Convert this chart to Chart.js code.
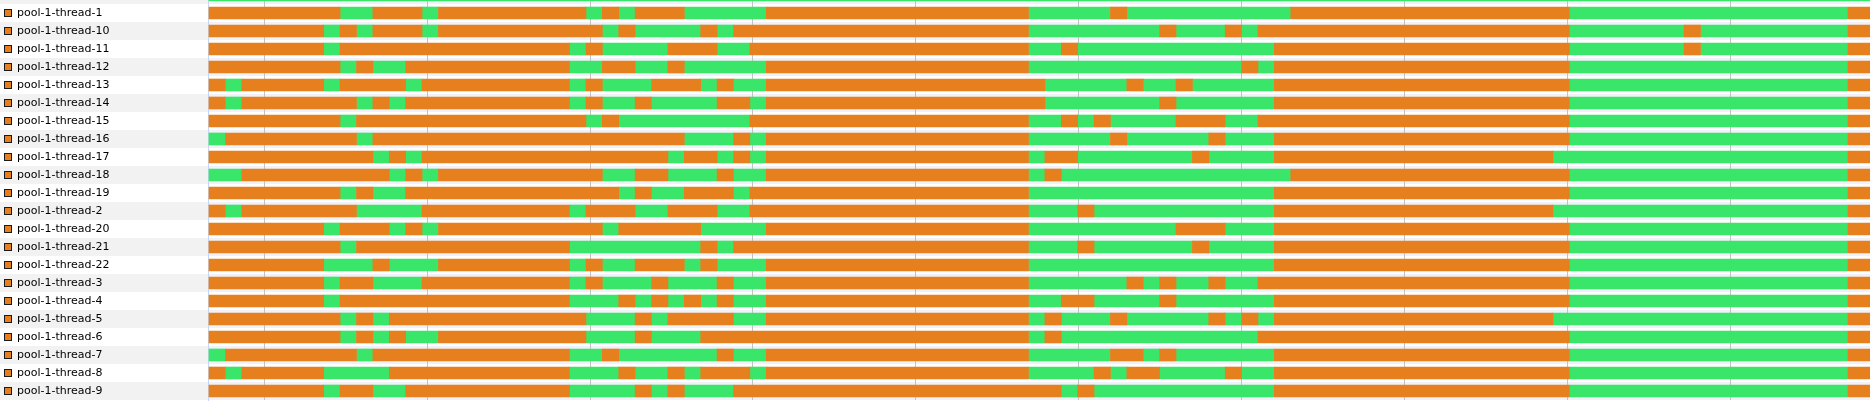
<!DOCTYPE html>
<html>
<head>
<meta charset="utf-8">
<script src="https://cdn.jsdelivr.net/npm/chart.js@4.4.1/dist/chart.umd.min.js"></script>
<style>
  html, body { margin: 0; padding: 0; background: #fff; overflow: hidden; }
  #wrap { position: relative; width: 1870px; height: 402px; overflow: hidden; }
  #timeline { position: absolute; left: 0; top: -18px; }
</style>
</head>
<body>
<div id="wrap"><canvas id="timeline" width="1870" height="422"></canvas></div>
<script>
// thread state timeline, one sample every ~100 ms

const SAMPLE_MS = 100.6;
const lastSample = 102;

// first row is only the bottom edge of a thread that is cut off above
const threadNames = [' ',
  'pool-1-thread-1', 'pool-1-thread-10', 'pool-1-thread-11', 'pool-1-thread-12',
  'pool-1-thread-13', 'pool-1-thread-14', 'pool-1-thread-15', 'pool-1-thread-16',
  'pool-1-thread-17', 'pool-1-thread-18', 'pool-1-thread-19', 'pool-1-thread-2',
  'pool-1-thread-20', 'pool-1-thread-21', 'pool-1-thread-22', 'pool-1-thread-3',
  'pool-1-thread-4', 'pool-1-thread-5', 'pool-1-thread-6', 'pool-1-thread-7',
  'pool-1-thread-8', 'pool-1-thread-9'];

const firstState = ['RUNNABLE',
  'WAITING', 'WAITING', 'WAITING', 'WAITING',
  'WAITING', 'WAITING', 'WAITING', 'RUNNABLE',
  'WAITING', 'RUNNABLE', 'WAITING', 'WAITING',
  'WAITING', 'WAITING', 'WAITING', 'WAITING',
  'WAITING', 'WAITING', 'WAITING', 'RUNNABLE',
  'WAITING', 'WAITING'];

// sample index where the state flips
const stateChanges = [
  [],
  [8, 10, 13, 14, 23, 24, 25, 26, 29, 34, 50, 55, 56, 66, 83, 100],
  [7, 8, 9, 10, 13, 14, 24, 25, 26, 30, 31, 32, 50, 58, 59, 62, 63, 64, 83, 90, 91, 100],
  [7, 8, 22, 23, 24, 28, 31, 33, 50, 52, 53, 65, 83, 90, 91, 100],
  [8, 9, 10, 12, 22, 24, 26, 28, 29, 34, 50, 63, 64, 65, 83, 100],
  [1, 2, 7, 8, 12, 13, 22, 23, 24, 27, 30, 31, 32, 34, 51, 56, 57, 59, 60, 65, 83, 100],
  [1, 2, 9, 10, 11, 12, 22, 23, 24, 26, 27, 31, 33, 34, 51, 58, 59, 65, 83, 100],
  [8, 9, 23, 24, 25, 33, 50, 52, 53, 54, 55, 59, 62, 64, 83, 100],
  [1, 9, 10, 29, 32, 33, 34, 50, 55, 56, 61, 62, 65, 83, 100],
  [10, 11, 12, 13, 28, 29, 31, 32, 33, 34, 50, 51, 53, 60, 61, 65, 82, 100],
  [2, 11, 12, 13, 14, 24, 26, 28, 31, 32, 34, 50, 51, 52, 66, 83, 100],
  [8, 9, 10, 12, 25, 26, 27, 29, 32, 33, 50, 65, 83, 100],
  [1, 2, 9, 13, 22, 23, 26, 28, 31, 33, 50, 53, 54, 65, 82, 100],
  [7, 8, 11, 12, 13, 14, 24, 25, 30, 34, 50, 59, 62, 65, 83, 100],
  [8, 9, 22, 30, 31, 32, 50, 53, 54, 60, 61, 65, 83, 100],
  [7, 10, 11, 14, 22, 23, 24, 26, 29, 30, 31, 34, 50, 65, 83, 100],
  [7, 8, 10, 13, 22, 23, 24, 27, 28, 31, 32, 34, 50, 56, 57, 58, 59, 61, 62, 64, 83, 100],
  [7, 8, 22, 25, 26, 27, 28, 29, 30, 31, 32, 34, 50, 52, 54, 58, 59, 65, 83, 100],
  [8, 9, 10, 11, 23, 26, 27, 28, 32, 34, 50, 51, 52, 55, 56, 61, 62, 63, 64, 65, 82, 100],
  [8, 9, 10, 11, 12, 14, 23, 26, 27, 30, 50, 51, 52, 64, 83, 100],
  [1, 9, 10, 22, 24, 25, 31, 32, 34, 50, 55, 57, 58, 59, 65, 83, 100],
  [1, 2, 7, 11, 22, 25, 26, 28, 29, 30, 33, 34, 50, 54, 55, 56, 58, 62, 63, 65, 83, 100],
  [7, 8, 10, 12, 22, 26, 27, 28, 29, 32, 52, 53, 54, 65, 83, 100]
];

// whole seconds on the time axis (ms)
const tickMs = [339, 1339, 2339, 3339, 4339, 5339, 6339, 7339, 8339, 9339];

const stateColors = { WAITING: '#e6801f', RUNNABLE: '#3ae66a' };

const segments = { WAITING: [], RUNNABLE: [] };
threadNames.forEach((name, i) => {
  const cuts = [0, ...stateChanges[i], lastSample];
  let state = firstState[i];
  for (let k = 0; k < cuts.length - 1; k++) {
    segments[state].push({ y: name, x: [cuts[k] * SAMPLE_MS, cuts[k + 1] * SAMPLE_MS] });
    state = state === 'WAITING' ? 'RUNNABLE' : 'WAITING';
  }
});

// striped rows + the little thread icons on the left
const rowPaint = {
  id: 'rowPaint',
  beforeDraw(chart) {
    const { ctx, chartArea, scales: { y } } = chart;
    const band = y.getPixelForValue(1) - y.getPixelForValue(0);
    threadNames.forEach((_, i) => {
      const top = y.getPixelForValue(i) - band / 2;
      const odd = i % 2 === 1;
      ctx.fillStyle = odd ? '#ffffff' : '#f2f2f2';
      ctx.fillRect(0, top, chartArea.left, band);
      ctx.fillStyle = odd ? '#ffffff' : '#f1f1f9';
      ctx.fillRect(chartArea.left, top, chartArea.right - chartArea.left, band);
    });
  },
  afterDraw(chart) {
    const { ctx, scales: { y } } = chart;
    ctx.save();
    ctx.lineWidth = 1;
    threadNames.forEach((_, i) => {
      const c = Math.round(y.getPixelForValue(i));
      ctx.fillStyle = stateColors.WAITING;
      ctx.fillRect(4, c - 4, 8, 8);
      ctx.strokeStyle = '#1a1a1a';
      ctx.strokeRect(4.5, c - 3.5, 7, 7);
    });
    ctx.restore();
  }
};

Chart.defaults.font.family = 'DejaVu Sans';

new Chart(document.getElementById('timeline'), {
  type: 'bar',
  data: {
    labels: threadNames,
    datasets: [
      {
        label: 'WAITING',
        data: segments.WAITING,
        backgroundColor: stateColors.WAITING
      },
      {
        label: 'RUNNABLE',
        data: segments.RUNNABLE,
        backgroundColor: stateColors.RUNNABLE
      }
    ]
  },
  options: {
    indexAxis: 'y',
    responsive: false,
    animation: false,
    devicePixelRatio: 1,
    grouped: false,
    barThickness: 12,
    borderWidth: 0,
    layout: { padding: { left: 17, top: 4, bottom: 4, right: 0 } },
    plugins: { legend: { display: false }, tooltip: { enabled: false } },
    scales: {
      x: {
        type: 'linear',
        min: -6,
        max: 10195,
        afterBuildTicks: s => { s.ticks = tickMs.map(v => ({ value: v })); },
        ticks: { display: false },
        grid: { color: '#c2c2c2', lineWidth: 1, drawTicks: false },
        border: { display: false },
        afterFit: s => { s.height = 0; s.paddingLeft = 0; s.paddingRight = 0; }
      },
      y: {
        type: 'category',
        offset: true,
        ticks: {
          crossAlign: 'far',
          autoSkip: false,
          padding: 0,
          color: '#000000',
          font: { family: 'DejaVu Sans', size: 11 }
        },
        grid: { display: false, drawTicks: false },
        border: { color: '#c8d6f2', width: 1 },
        afterFit: s => { s.width = 191; s.paddingTop = 0; s.paddingBottom = 0; }
      }
    }
  },
  plugins: [rowPaint]
});
</script>
</body>
</html>
